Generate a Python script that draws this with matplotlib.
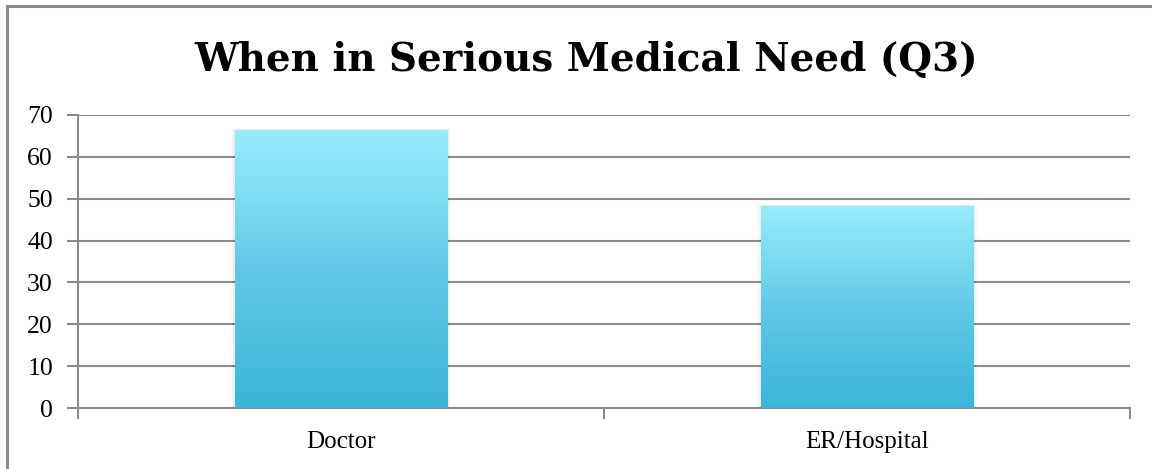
import numpy as np
import matplotlib; matplotlib.use("Agg")
import matplotlib.pyplot as plt
from matplotlib.colors import LinearSegmentedColormap
from matplotlib.lines import Line2D
from matplotlib.patches import Rectangle

categories = ["Doctor", "ER/Hospital"]
values = [66.4, 48.2]
yticks = [0, 10, 20, 30, 40, 50, 60, 70]
title = "When in Serious Medical Need (Q3)"

GRID = "#8c8c8c"
SERIF = ["Liberation Serif", "DejaVu Serif"]
grad = LinearSegmentedColormap.from_list("bar", ["#3ab5d9", "#62c9e6", "#97edfd"])

fig = plt.figure(figsize=(11.52, 4.69), dpi=100)
ax = fig.add_axes([0.0677, 0.130, 0.9133, 0.6248])

x = np.arange(len(categories)) + 0.5
width = 0.403
ax.set_xlim(0, len(categories))
ax.set_ylim(0, 70)

# vertical gradient inside each bar, plus a faint shadow
g = np.linspace(0, 1, 256).reshape(-1, 1)
for xi, v in zip(x, values):
    for k, a in enumerate([0.04, 0.025, 0.012]):
        d = 0.003 * (k + 1)
        ax.add_patch(Rectangle((xi - width / 2 - d, 0), width + 2 * d, v + 0.2 * (k + 1),
                               facecolor="black", alpha=a, edgecolor="none", zorder=2))
    rect = Rectangle((xi - width / 2, 0), width, v, facecolor="none", edgecolor="none", zorder=3)
    ax.add_patch(rect)
    im = ax.imshow(g, cmap=grad, aspect="auto", origin="lower",
                   extent=(xi - width / 2, xi + width / 2, 0, v), zorder=3)
    im.set_clip_path(rect)

ax.set_yticks(yticks)
ax.set_yticklabels([str(t) for t in yticks], family=SERIF, fontsize=18.5)
ax.set_xticks(range(len(categories) + 1))
ax.set_xticklabels([])
for xi, c in zip(x, categories):
    ax.text(xi, -8.1, c, ha="center", va="center", family=SERIF, fontsize=18)

ax.grid(axis="y", color=GRID, linewidth=1.5, zorder=1)
ax.set_axisbelow(True)
for s in ["top", "right"]:
    ax.spines[s].set_visible(False)
for s in ["left", "bottom"]:
    ax.spines[s].set_color(GRID)
    ax.spines[s].set_linewidth(1.5)
ax.tick_params(axis="both", color=GRID, width=1.5, length=8)
ax.tick_params(axis="y", pad=10)

fig.text(0.509, 0.872, title, ha="center", va="center", family=["DejaVu Serif"],
         fontweight="bold", fontsize=28)

# chart frame (left and top edges)
fig.add_artist(Line2D([7 / 1152, 7 / 1152], [0, 1 - 6 / 469], color=GRID, linewidth=2.2))
fig.add_artist(Line2D([7 / 1152, 1], [1 - 6 / 469, 1 - 6 / 469], color=GRID, linewidth=2.2))

fig.savefig("out.png", dpi=100)
